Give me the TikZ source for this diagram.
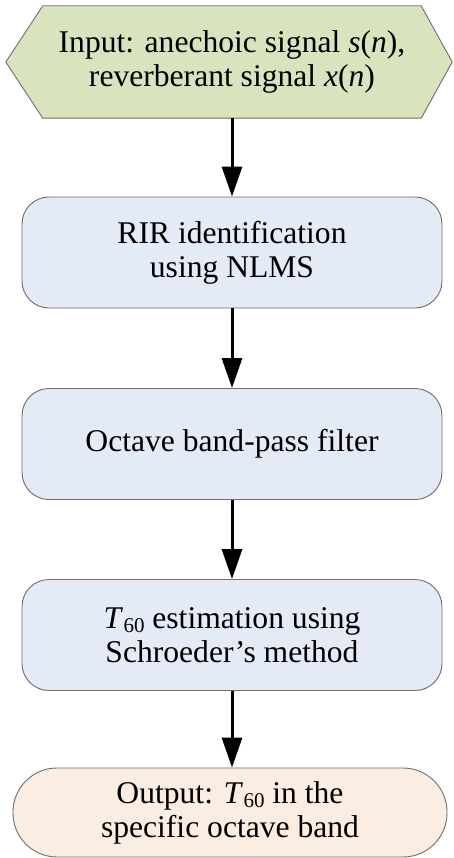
\documentclass[tikz,border=0pt]{standalone}
\usepackage{fontspec}
\setmainfont{Liberation Serif}
\usetikzlibrary{arrows.meta,backgrounds}

\definecolor{inputgreen}{HTML}{D7E4BD}
\definecolor{stepblue}{HTML}{E4EBF6}
\definecolor{outpeach}{HTML}{FCEDE2}
\definecolor{edgegray}{HTML}{6E6E6E}

\newcommand{\tsixty}{\textit{T}\kern0.5pt{\fontsize{21}{21}\selectfont\raisebox{-4pt}{60}}}

\tikzset{
  flowtext/.style={align=center, font=\fontsize{31.6}{34}\selectfont, inner sep=0pt},
  hexcore/.style={flowtext, minimum width=378pt, minimum height=112pt},
  hexline/.style={draw=edgegray, line width=0.9pt, fill=inputgreen},
  stepbox/.style={flowtext, draw=edgegray, line width=0.9pt, fill=stepblue,
    rounded corners=27pt, minimum width=420pt, minimum height=111pt},
  outbox/.style={flowtext, draw=edgegray, line width=0.9pt, fill=outpeach,
    rounded corners=44pt, minimum width=434pt, minimum height=89pt},
  flowarrow/.style={line width=3pt, -{Triangle[width=20pt,length=30pt]}}
}

\begin{document}
\begin{tikzpicture}[x=1pt,y=1pt]
  \useasboundingbox (0,0) rectangle (453,-858);

  % input terminal (hexagon)
  \node[hexcore] (inp) at (232,-62)
    {Input: anechoic signal \textit{s}(\textit{n}),\\reverberant signal \textit{x}(\textit{n})};
  \begin{scope}[on background layer]
    \draw[hexline] ([xshift=-37pt]inp.west) -- (inp.north west) -- (inp.north east)
      -- ([xshift=31pt]inp.east) -- (inp.south east) -- (inp.south west) -- cycle;
  \end{scope}

  % processing steps
  \node[stepbox] (rir) at (232,-252.5) {RIR identification\\using NLMS};
  \node[stepbox] (obp) at (232,-444) {Octave band-pass filter};
  \node[stepbox] (t60) at (232,-635) {\tsixty{} estimation using\\Schroeder’s method};

  % output terminal
  \node[outbox] (out) at (230,-812.5) {Output: \tsixty{} in the\\specific octave band};

  % connectors
  \draw[flowarrow] (inp.south) -- (rir.north);
  \draw[flowarrow] (rir.south) -- (obp.north);
  \draw[flowarrow] (obp.south) -- (t60.north);
  \draw[flowarrow] (t60.south) -- (out.north -| t60.south);
\end{tikzpicture}
\end{document}
